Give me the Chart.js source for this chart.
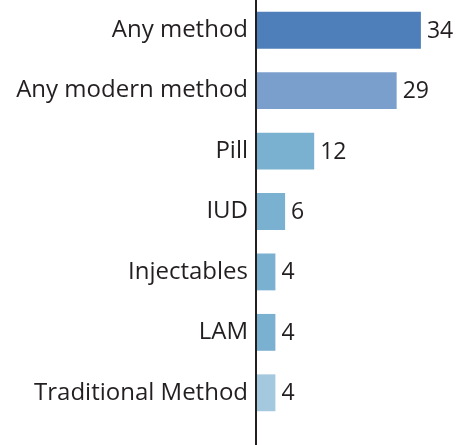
<!DOCTYPE html>
<html>
<head>
<meta charset="utf-8">
<script src="https://cdn.jsdelivr.net/npm/chart.js@4/dist/chart.umd.min.js"></script>
<style>
    html, body { margin: 0; padding: 0; background: #fff; }
    #wrap { width: 459px; height: 445px; position: relative; }
</style>
</head>
<body>
<div id="wrap"><canvas id="chart-methods"></canvas></div>
<script>
const methodLabels = ['Any method', 'Any modern method', 'Pill', 'IUD', 'Injectables', 'LAM', 'Traditional Method'];
const methodValues = [34, 29, 12, 6, 4, 4, 4];
const barColors = ['#4f7fba', '#7b9fcc', '#7bb1d0', '#7bb1d0', '#7bb1d0', '#7bb1d0', '#a4c8dd'];

const textColor = '#231f20';
const fontFamily = '"Open Sans", "Noto Sans", sans-serif';

// value labels at the end of each bar + axis line running the full height
const barValuePlugin = {
    id: 'barValues',
    afterDatasetsDraw(chart) {
        const ctx = chart.ctx;
        const meta = chart.getDatasetMeta(0);
        ctx.save();
        ctx.fillStyle = textColor;
        ctx.font = '23px ' + fontFamily;
        ctx.textAlign = 'left';
        ctx.textBaseline = 'middle';
        meta.data.forEach((bar, i) => {
            ctx.fillText(String(methodValues[i]), bar.x + 6, bar.y + 1);
        });
        const x = chart.scales.x.left;
        ctx.strokeStyle = textColor;
        ctx.lineWidth = 2;
        ctx.beginPath();
        ctx.moveTo(x, 0);
        ctx.lineTo(x, chart.height);
        ctx.stroke();
        ctx.restore();
    }
};

new Chart(document.getElementById('chart-methods').getContext('2d'), {
    type: 'bar',
    data: {
        labels: methodLabels,
        datasets: [{
            data: methodValues,
            backgroundColor: barColors,
            borderWidth: 0,
            categoryPercentage: 1,
            barPercentage: 0.61
        }]
    },
    options: {
        indexAxis: 'y',
        responsive: true,
        maintainAspectRatio: false,
        animation: false,
        layout: { padding: { top: 0, right: 9, bottom: 22, left: 0 } },
        plugins: {
            legend: { display: false },
            tooltip: { enabled: false }
        },
        scales: {
            x: {
                display: false,
                min: 0,
                max: 40
            },
            y: {
                grid: { display: false, drawTicks: false },
                border: { display: false },
                afterFit(scale) {
                    scale.width = 256;
                    scale.paddingTop = 0;
                    scale.paddingBottom = 0;
                },
                ticks: {
                    color: textColor,
                    padding: 8,
                    font: { family: fontFamily, size: 24 }
                }
            }
        }
    },
    plugins: [barValuePlugin]
});
</script>
</body>
</html>
